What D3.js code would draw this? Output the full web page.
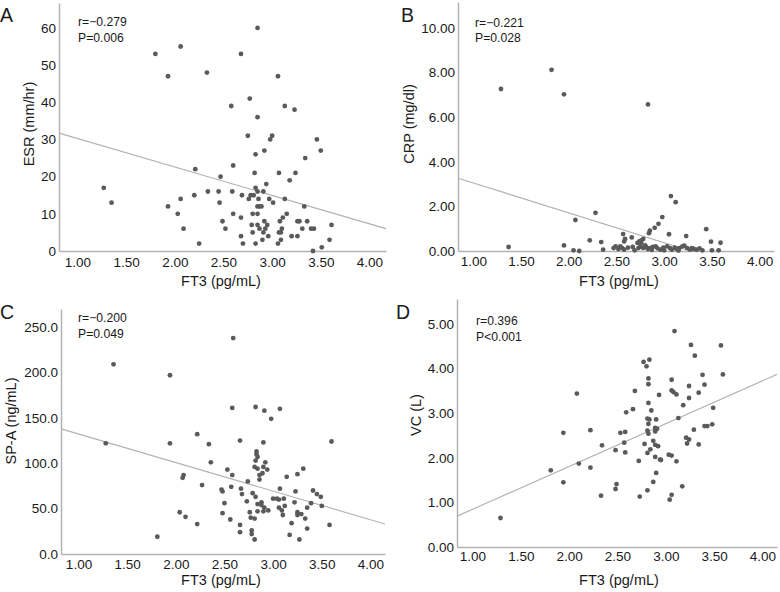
<!DOCTYPE html>
<html><head><meta charset="utf-8">
<script src="https://cdn.jsdelivr.net/npm/d3@7"></script>
<style>
html,body{margin:0;padding:0;background:#fff;}
svg{display:block;}
text{font-family:"Liberation Sans",Arial,Helvetica,sans-serif;fill:#1a1a1a;}
</style>
</head><body>
<svg id="chart" width="780" height="592"></svg>
<script>
// ---------- DATA ----------
const xTicks = [1.0, 1.5, 2.0, 2.5, 3.0, 3.5, 4.0];
const xTitle = "FT3 (pg/mL)";

// Panel A: ESR
const ft3A = [1.27,1.35,1.80,2.06,1.93,2.33,2.21,2.47,2.34,2.45,2.20,2.06,1.93,2.46,2.03,2.49,2.09,2.52,2.25,
  2.85,2.68,3.06,2.77,2.58,3.13,3.23,2.85,2.75,2.98,3.00,3.46,3.50,2.92,2.83,3.34,2.60,2.82,3.07,3.24,3.18,2.94,2.59,2.69,2.83,2.85,2.91,2.78,2.81,2.76,2.86,2.97,3.01,3.13,3.33,2.85,2.87,2.89,2.60,2.68,2.80,2.85,3.15,3.11,3.08,2.92,3.26,3.28,3.36,3.61,2.79,2.85,2.95,2.87,2.93,3.10,3.31,3.40,3.43,2.80,2.91,3.07,3.09,2.68,2.96,3.20,3.26,2.90,3.09,3.59,2.70,2.83,3.06,3.51,3.42];
const esrA = [17,13,53,55,47,48,22,20,16,16,15,14,12,13,10,8,6,6,2,
  60,53,47,41,39,39,38,36,31,30,31,30,27,27,26,25,23,21,21,21,19,18,16,15,17,16,16,15,15,14,14,14,13,14,12,12,12,12,10,9,10,10,10,9,8,8,8,8,8,7,7,7,7,6,6,6,6,6,6,5,5,5,5,4,4,4,4,3,3,3,2,2,2,1,0];
const yTicksA = [0,10,20,30,40,50,60];
const fitA = {intercept: 37.9, slope: -7.65};
const statA = ["r=\u22120.279", "P=0.006"];

// Panel B: CRP
const ft3B = [1.29,1.82,1.95,1.37,2.07,2.28,1.95,2.05,2.11,2.22,2.34,2.36,
  2.83,3.07,3.12,2.98,2.94,2.90,2.85,2.84,3.44,3.05,3.23,2.57,2.59,2.58,2.66,2.78,2.76,2.74,2.72,2.76,3.49,3.59,3.50,3.57,
  2.47,2.49,2.52,2.54,2.56,2.58,2.67,2.69,2.73,2.75,2.78,2.81,2.83,2.85,2.88,2.91,2.93,2.96,2.99,3.03,3.06,3.08,3.11,3.13,3.16,3.19,3.21,3.24,3.27,3.29,3.31,3.34,3.37,3.40,
  2.62,2.80,2.87,3.00,3.15];
const crpB = [7.26,8.12,7.02,0.18,1.39,1.71,0.25,0.03,0.00,0.48,0.40,0.06,
  6.57,2.46,2.19,1.52,1.22,1.04,0.91,0.80,0.98,0.75,0.67,0.76,0.54,0.43,0.61,0.54,0.48,0.43,0.36,0.36,0.42,0.37,0.03,0.03,
  0.13,0.21,0.09,0.21,0.13,0.06,0.18,0.03,0.13,0.21,0.13,0.18,0.09,0.13,0.18,0.21,0.12,0.06,0.15,0.21,0.13,0.06,0.15,0.09,0.13,0.21,0.24,0.13,0.06,0.13,0.09,0.06,0.12,0.03,
  0.15,0.25,0.05,0.03,0.02];
const yTicksB = [0,2,4,6,8,10];
const fitB = {intercept: 4.39, slope: -1.34};
const statB = ["r=\u22120.221", "P=0.028"];

// Panel C: SP-A
const ft3C = [1.36,1.28,1.94,1.94,2.22,2.34,2.36,2.53,2.08,2.07,2.27,2.47,2.48,2.50,2.04,2.10,2.48,2.22,1.81,
  2.59,2.58,2.82,2.91,3.07,2.98,2.66,2.90,3.60,2.83,2.83,2.84,2.82,2.92,2.81,2.84,2.90,2.94,2.58,2.86,2.89,2.86,3.31,3.25,3.14,2.74,2.57,2.67,2.68,3.07,3.23,3.41,3.45,3.49,2.73,2.79,2.82,3.00,3.04,3.06,3.11,2.88,2.88,2.91,2.90,2.95,2.84,3.39,3.50,3.22,3.25,3.29,3.25,3.12,3.06,3.09,3.10,3.35,2.84,2.76,2.77,2.81,3.33,2.56,3.19,2.66,2.66,3.35,3.58,2.78,2.78,2.81,3.17,3.27];
const spaC = [209,122,197,122,132,121,101,93,87,84,76,71,69,56,46,41,45,33,19,
  238,161,162,158,160,149,125,123,124,113,110,107,103,101,96,94,96,93,87,87,89,82,94,88,85,80,74,72,66,72,69,70,66,63,58,67,63,61,61,60,61,57,54,51,47,48,55,56,53,57,46,44,43,53,51,48,43,51,47,46,40,39,39,38,34,32,24,28,32,26,22,16,21,16];
const yTicksC = [0,50,100,150,200,250];
const fitC = {intercept: 163.8, slope: -31.5};
const statC = ["r=\u22120.200", "P=0.049"];

// Panel D: VC
const ft3D = [1.29,1.81,1.94,1.94,2.08,2.10,2.22,2.22,2.33,2.34,2.48,2.49,2.48,
  3.09,3.26,3.57,3.30,2.77,2.80,2.83,3.59,2.82,2.82,3.06,3.38,3.40,3.24,2.68,3.06,3.08,3.11,3.34,2.93,3.24,2.82,3.18,3.49,2.66,2.59,2.85,2.81,2.83,2.90,2.82,3.13,2.89,2.91,2.81,2.82,2.89,2.53,2.58,3.29,3.40,3.43,3.48,2.57,3.21,3.24,3.22,3.34,2.78,2.87,2.89,2.92,2.58,2.84,2.81,3.03,3.06,2.89,2.94,2.95,2.72,3.11,2.90,2.87,3.17,2.81,2.73,3.06,3.04];
const vcD = [0.65,1.72,2.56,1.45,3.44,1.87,2.62,1.78,1.15,2.28,2.17,1.41,1.30,
  4.84,4.53,4.52,4.29,4.15,4.05,4.20,3.87,3.78,3.65,3.75,3.86,3.64,3.61,3.50,3.51,3.47,3.42,3.46,3.41,3.34,3.23,3.18,3.12,3.09,3.02,3.06,2.88,2.86,2.86,2.76,2.89,2.67,2.65,2.61,2.54,2.59,2.56,2.58,2.63,2.71,2.71,2.75,2.34,2.45,2.41,2.32,2.30,2.31,2.38,2.29,2.26,2.12,2.19,2.11,2.07,2.05,2.02,1.96,1.95,1.93,1.92,1.66,1.46,1.36,1.27,1.13,1.17,1.06];
const yTicksD = [0,1,2,3,4,5];
const fitD = {intercept: -0.117, slope: 0.961};
const statD = ["r=0.396", "P<0.001"];

// ---------- LAYOUT ----------
const panels = [
  {letter:"A", xs:ft3A, ys:esrA, yTicks:yTicksA, fmt:d3.format("d"), fit:fitA, stat:statA, yTitle:"ESR (mm/hr)",
   xDom:[0.81,4.17], yDom:[0,66.7], left:59, right:386, top:3, bottom:251,
   letterPos:[0,21.5], statPos:[78,26], yTitlePos:[34,124], xTitlePos:[221,286], xLabDy:15.5},
  {letter:"B", xs:ft3B, ys:crpB, yTicks:yTicksB, fmt:d3.format(".2f"), fit:fitB, stat:statB, yTitle:"CRP (mg/dl)",
   xDom:[0.84,4.15], yDom:[0,11.16], left:458, right:774, top:2, bottom:251,
   letterPos:[401,21.5], statPos:[475,26.5], yTitlePos:[414,124], xTitlePos:[619,286], xLabDy:14.5},
  {letter:"C", xs:ft3C, ys:spaC, yTicks:yTicksC, fmt:d3.format(".1f"), fit:fitC, stat:statC, yTitle:"SP-A (ng/mL)",
   xDom:[0.82,4.15], yDom:[0,270], left:61, right:385, top:309, bottom:554,
   letterPos:[0,319], statPos:[78,322], yTitlePos:[16,421], xTitlePos:[221,585], xLabDy:15},
  {letter:"D", xs:ft3D, ys:vcD, yTicks:yTicksD, fmt:d3.format(".2f"), fit:fitD, stat:statD, yTitle:"VC (L)",
   xDom:[0.84,4.15], yDom:[0,5.56], left:457, right:777, top:299, bottom:547,
   letterPos:[396,318.5], statPos:[476,325], yTitlePos:[421,415], xTitlePos:[619,585], xLabDy:14}
];

const svg = d3.select("#chart");
const axisColor = "#b3b3b3";

panels.forEach((p, i) => {
  const x = d3.scaleLinear().domain(p.xDom).range([p.left, p.right]);
  const y = d3.scaleLinear().domain(p.yDom).range([p.bottom, p.top]);
  const g = svg.append("g");

  const clipId = "clip" + i;
  svg.append("clipPath").attr("id", clipId).append("rect")
    .attr("x", p.left).attr("y", p.top).attr("width", p.right - p.left).attr("height", p.bottom - p.top);

  // axes
  const xa = g.append("g").attr("transform", `translate(0,${p.bottom})`)
    .call(d3.axisBottom(x).tickValues(xTicks).tickFormat(d3.format(".2f")).tickSize(0).tickSizeOuter(0));
  xa.selectAll("text").attr("y", 0).attr("dy", p.xLabDy).style("font-size", "13.5px").style("fill", "#1a1a1a");
  const ya = g.append("g").attr("transform", `translate(${p.left},0)`)
    .call(d3.axisLeft(y).tickValues(p.yTicks).tickFormat(p.fmt).tickSize(0).tickSizeOuter(0).tickPadding(3));
  ya.selectAll("text").style("font-size", "13.5px").style("fill", "#1a1a1a");
  [xa, ya].forEach(a => a.select(".domain").attr("stroke", axisColor).attr("stroke-width", 1.5));

  // fit line
  g.append("line").attr("clip-path", `url(#${clipId})`)
    .attr("x1", x(p.xDom[0])).attr("y1", y(p.fit.intercept + p.fit.slope * p.xDom[0]))
    .attr("x2", x(p.xDom[1])).attr("y2", y(p.fit.intercept + p.fit.slope * p.xDom[1]))
    .attr("stroke", "#b0b0b0").attr("stroke-width", 1.1);

  // points
  g.selectAll("circle.pt").data(p.xs.map((v, k) => [v, p.ys[k]])).enter().append("circle")
    .attr("class", "pt").attr("cx", d => x(d[0])).attr("cy", d => y(d[1])).attr("r", 2.4)
    .attr("fill", "#5a5a5a");

  // letter
  g.append("text").attr("x", p.letterPos[0]).attr("y", p.letterPos[1]).text(p.letter)
    .style("font-size", "19.5px");
  // stats
  p.stat.forEach((s, k) => g.append("text").attr("x", p.statPos[0]).attr("y", p.statPos[1] + k * 15.5)
    .text(s).style("font-size", "12.2px"));
  // titles
  g.append("text").attr("transform", `translate(${p.yTitlePos[0]},${p.yTitlePos[1]}) rotate(-90)`)
    .attr("text-anchor", "middle").text(p.yTitle).style("font-size", "14.5px");
  g.append("text").attr("x", p.xTitlePos[0]).attr("y", p.xTitlePos[1])
    .attr("text-anchor", "middle").text(xTitle).style("font-size", "14.5px");
});
</script>
</body></html>
